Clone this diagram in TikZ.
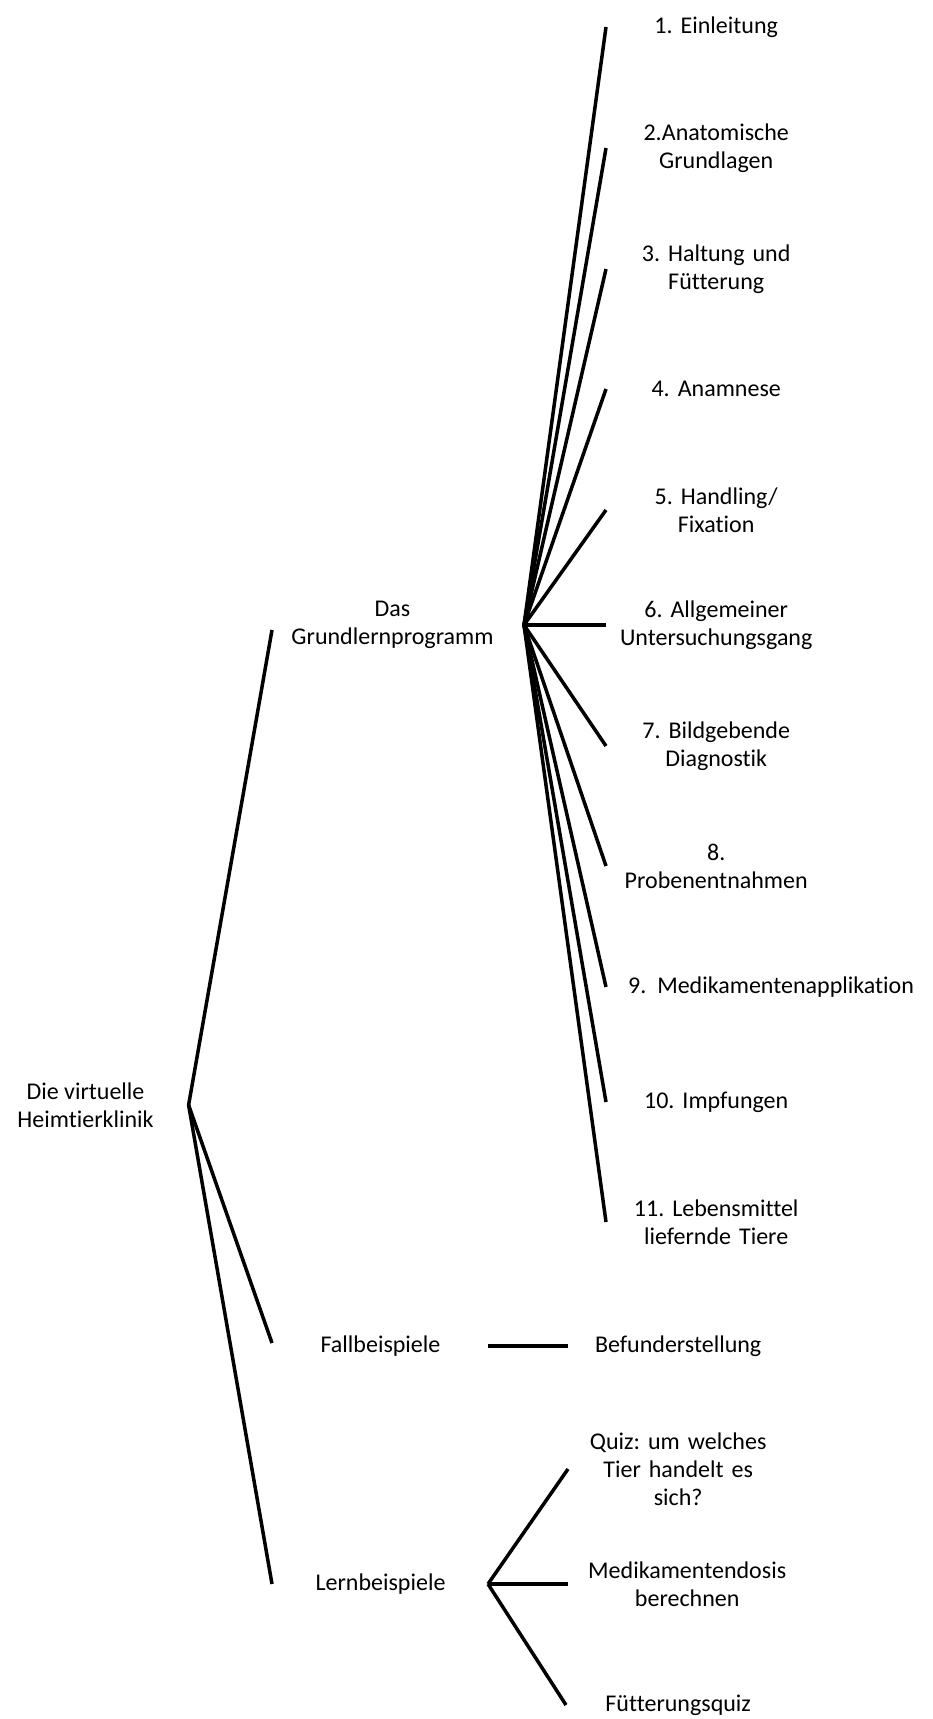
\documentclass[tikz,border=0pt]{standalone}
\usepackage{fontspec}
\setmainfont{Carlito}[Ligatures=NoCommon]
\usetikzlibrary{positioning}
\frenchspacing

\begin{document}
\begin{tikzpicture}[
  x=1pt, y=-1pt,
  font=\fontsize{24}{28}\selectfont,
  every node/.style={align=center, inner sep=0pt},
  branch/.style={line width=3.5pt},
  leaf/.style={text width=210pt},
  wideleaf/.style={align=left}
]
\useasboundingbox (0,0) rectangle (933,1719);

% root
\node (root) at (85.5,1105) {Die virtuelle\\Heimtierklinik};
\coordinate (rj) at (188.6,1105);
\coordinate (gin) at (272,630);
\coordinate (fin) at (272,1343);
\coordinate (lin) at (272,1584);
\draw[branch] (rj) -- (gin);
\draw[branch] (rj) -- (fin);
\draw[branch] (rj) -- (lin);

% second level
\node (grund) at (392.5,625) {Das\\Grundlernprogramm};
\node (fall) at (380.5,1346) {Fallbeispiele};
\node (lern) at (380.5,1584) {Lernbeispiele};
\coordinate (gj) at (524,625);
\coordinate (fj) at (488,1346);
\coordinate (lj) at (488,1584);

% Grundlernprogramm
\coordinate (e1) at (606,27);
\coordinate (e2) at (606,148);
\coordinate (e3) at (606,269);
\coordinate (e4) at (606,389);
\coordinate (e5) at (606,510);
\coordinate (e6) at (606,625);
\coordinate (e7) at (606,746);
\coordinate (e8) at (606,866);
\coordinate (e9) at (606,987);
\coordinate (e10) at (606,1102);
\coordinate (e11) at (606,1222);
\node[leaf, right=5pt of e1] (l1) {1. Einleitung};
\node[leaf, right=5pt of e2] (l2) {2.Anatomische\\Grundlagen};
\node[leaf, right=5pt of e3] (l3) {3. Haltung und\\Fütterung};
\node[leaf, right=5pt of e4] (l4) {4. Anamnese};
\node[leaf, right=5pt of e5] (l5) {5. Handling/\\Fixation};
\node[leaf, right=5pt of e6] (l6) {6. Allgemeiner\\Untersuchungsgang};
\node[leaf, right=5pt of e7] (l7) {7. Bildgebende\\Diagnostik};
\node[leaf, right=5pt of e8] (l8) {8.\\Probenentnahmen};
\node[wideleaf, right=22pt of e9] (l9) {9.\ \ Medikamentenapplikation};
\node[leaf, right=5pt of e10] (l10) {10. Impfungen};
\node[leaf, right=5pt of e11] (l11) {11. Lebensmittel\\liefernde Tiere};
\draw[branch] (gj) -- (e1);
\draw[branch] (gj) -- (e2);
\draw[branch] (gj) -- (e3);
\draw[branch] (gj) -- (e4);
\draw[branch] (gj) -- (e5);
\draw[branch] (gj) -- (e6);
\draw[branch] (gj) -- (e7);
\draw[branch] (gj) -- (e8);
\draw[branch] (gj) -- (e9);
\draw[branch] (gj) -- (e10);
\draw[branch] (gj) -- (e11);

% Fallbeispiele
\coordinate (f1) at (568,1346);
\node[leaf, right=5pt of f1] (befund) {Befunderstellung};
\draw[branch] (fj) -- (f1);

% Lernbeispiele
\coordinate (q1) at (568,1469);
\coordinate (q2) at (568,1584);
\coordinate (q3) at (566,1705);
\node[leaf, right=5pt of q1] (quiz) {Quiz: um welches\\Tier handelt es\\sich?};
\node[leaf, right=14pt of q2] (dosis) {Medikamentendosis\\berechnen};
\node[leaf, right=7pt of q3] (fquiz) {Fütterungsquiz};
\draw[branch] (lj) -- (q1);
\draw[branch] (lj) -- (q2);
\draw[branch] (lj) -- (q3);

\end{tikzpicture}
\end{document}
